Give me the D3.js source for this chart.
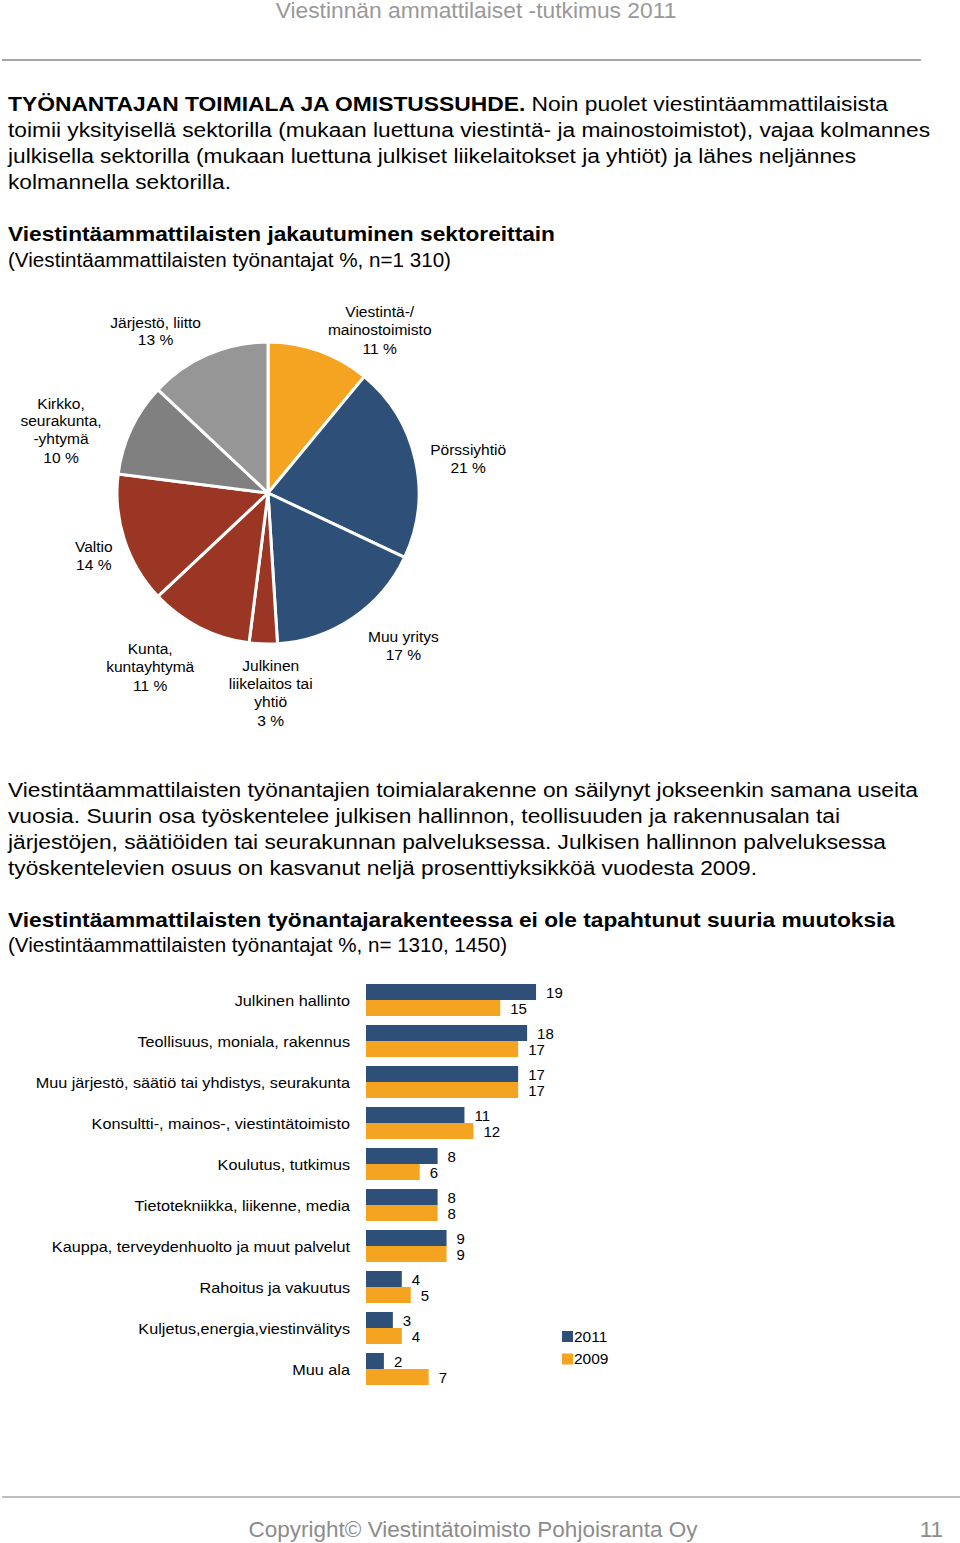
<!DOCTYPE html>
<html><head><meta charset="utf-8">
<script src="https://cdn.jsdelivr.net/npm/d3@7"></script>
<style>body{margin:0;background:#fff} svg{display:block} text{font-family:"Liberation Sans",Arial,sans-serif}</style>
</head><body><svg id="c" width="960" height="1543"></svg>
<script>
// ---------- DATA ----------
const pieCategories = ["Viestintä-/ mainostoimisto","Pörssiyhtiö","Muu yritys","Julkinen liikelaitos tai yhtiö","Kunta, kuntayhtymä","Valtio","Kirkko, seurakunta, -yhtymä","Järjestö, liitto"];
const pieLabelLines = [["Viestintä-/","mainostoimisto"],["Pörssiyhtiö"],["Muu yritys"],["Julkinen","liikelaitos tai","yhtiö"],["Kunta,","kuntayhtymä"],["Valtio"],["Kirkko,","seurakunta,","-yhtymä"],["Järjestö, liitto"]];
const pieValues = [11,21,17,3,11,14,10,13];

const barCategories = ["Julkinen hallinto","Teollisuus, moniala, rakennus","Muu järjestö, säätiö tai yhdistys, seurakunta","Konsultti-, mainos-, viestintätoimisto","Koulutus, tutkimus","Tietotekniikka,  liikenne,  media","Kauppa, terveydenhuolto ja muut palvelut","Rahoitus ja vakuutus","Kuljetus,energia,viestinvälitys","Muu ala"];
const values2011 = [19,18,17,11,8,8,9,4,3,2];
const values2009 = [15,17,17,12,6,8,9,5,4,7];
const seriesNames = ["2011","2009"];

// ---------- STYLE / LAYOUT ----------
const pieColors = ["#F4A421","#2E5078","#2E5078","#9B3524","#9B3524","#9B3524","#808080","#969696"];
const labelNudge = [[44,25],[5,10],[23,-12],[9,0],[-27,-4],[16,1],[-26,22.5],[-33,22]];
const seriesColors = {"2011":"#2E5078","2009":"#F4A421"};

const svg = d3.select("#c");

function stretch(sel, factor){
  sel.each(function(){
    const w = this.getComputedTextLength();
    d3.select(this).attr("textLength", w*factor).attr("lengthAdjust","spacingAndGlyphs");
  });
}

// header
const hdr = svg.append("text").attr("x",476).attr("y",18).attr("text-anchor","middle")
  .attr("font-size",21.5).attr("fill","#999").text("Viestinnän ammattilaiset -tutkimus 2011");
stretch(hdr, 1.06);
svg.append("line").attr("x1",2).attr("x2",921).attr("y1",60).attr("y2",60).attr("stroke","#a6a6a6").attr("stroke-width",2);

function para(lines, widths, y0, lh, size){
  lines.forEach((ln,i)=>{
    const t = svg.append("text").attr("x",8).attr("y",y0+i*lh).attr("font-size",size).attr("fill","#000");
    ln.forEach(seg=>{ t.append("tspan").attr("font-weight",seg[1]?"bold":"normal").text(seg[0]); });
    t.attr("textLength",widths[i]).attr("lengthAdjust","spacingAndGlyphs");
  });
}
para([
  [["TYÖNANTAJAN TOIMIALA JA OMISTUSSUHDE.",true],[" Noin puolet viestintäammattilaisista",false]],
  [["toimii yksityisellä sektorilla (mukaan luettuna viestintä- ja mainostoimistot), vajaa kolmannes",false]],
  [["julkisella sektorilla (mukaan luettuna julkiset liikelaitokset ja yhtiöt) ja lähes neljännes",false]],
  [["kolmannella sektorilla.",false]]
],[880,922,848,223],111,26,20);
para([[["Viestintäammattilaisten jakautuminen sektoreittain",true]]],[547],241,26,20);
para([[["(Viestintäammattilaisten työnantajat %, n=1 310)",false]]],[443],267,26,20);

para([
  [["Viestintäammattilaisten työnantajien toimialarakenne on säilynyt jokseenkin samana useita",false]],
  [["vuosia. Suurin osa työskentelee julkisen hallinnon, teollisuuden ja rakennusalan tai",false]],
  [["järjestöjen, säätiöiden tai seurakunnan palveluksessa. Julkisen hallinnon palveluksessa",false]],
  [["työskentelevien osuus on kasvanut neljä prosenttiyksikköä vuodesta 2009.",false]]
],[910,832,878,749],797,26,20);
para([[["Viestintäammattilaisten työnantajarakenteessa ei ole tapahtunut suuria muutoksia",true]]],[887],927,26,20);
para([[["(Viestintäammattilaisten työnantajat %, n= 1310, 1450)",false]]],[499],952,26,20);

// ---------- PIE ----------
const cx=268, cy=493, R=151;
const pie = d3.pie().sort(null).value(d=>d)(pieValues);
const arc = d3.arc().innerRadius(0).outerRadius(R);
const labelArc = d3.arc().innerRadius(200).outerRadius(200);
const gp = svg.append("g").attr("transform",`translate(${cx},${cy})`);
gp.selectAll("path").data(pie).join("path").attr("d",arc)
  .attr("fill",(d,i)=>pieColors[i]).attr("stroke","#fff").attr("stroke-width",3).attr("stroke-linejoin","round");
pie.forEach((d,i)=>{
  const c = labelArc.centroid(d);
  const lx = c[0]+labelNudge[i][0], ly = c[1]+labelNudge[i][1];
  const lines = pieLabelLines[i].concat([d.data+" %"]);
  const lh = 17.7;
  const y0 = ly - (lines.length-1)*lh/2;
  lines.forEach((ln,j)=>{
    const t = gp.append("text").attr("text-anchor","middle").attr("font-size",14).attr("fill","#000")
      .attr("x",lx).attr("y",y0+j*lh + (j===lines.length-1 && lines.length>2 ? 1.5:0)).attr("dy","0.35em").text(ln);
    stretch(t, 1.11);
  });
});

// ---------- BARS ----------
const x = d3.scaleLinear().domain([0,20]).range([366,545]);
const y = d3.scaleBand().domain(barCategories).range([979.5,1389.5]).paddingInner(9/41).paddingOuter(4.5/41);
const ys = d3.scaleBand().domain(seriesNames).range([0,y.bandwidth()]);
const rows = barCategories.map((c,i)=>({cat:c, vals:[{s:"2011",v:values2011[i]},{s:"2009",v:values2009[i]}]}));
const gb = svg.append("g");
const grp = gb.selectAll("g.row").data(rows).join("g").attr("class","row").attr("transform",d=>`translate(0,${y(d.cat)})`);
grp.selectAll("rect").data(d=>d.vals).join("rect")
  .attr("x",x(0)).attr("y",d=>ys(d.s)).attr("width",d=>x(d.v)-x(0)).attr("height",ys.bandwidth())
  .attr("fill",d=>seriesColors[d.s]);
grp.selectAll("text.val").data(d=>d.vals).join("text").attr("class","val")
  .attr("x",d=>x(d.v)+10).attr("y",d=>ys(d.s)+ys.bandwidth()/2+1).attr("dy","0.35em")
  .attr("font-size",15).attr("fill","#000").text(d=>d.v);
const catLabels = grp.append("text").attr("x",350).attr("y",y.bandwidth()/2+1).attr("dy","0.35em").attr("text-anchor","end")
  .attr("font-size",15).attr("fill","#000").text(d=>d.cat);
stretch(catLabels, 1.08);

// legend
const lg = svg.append("g").attr("transform","translate(562,1331)");
seriesNames.forEach((s,i)=>{
  lg.append("rect").attr("x",0).attr("y",i*22.5).attr("width",11).attr("height",11).attr("fill",seriesColors[s]);
  lg.append("text").attr("x",12).attr("y",i*22.5+5.5).attr("dy","0.35em").attr("font-size",15.5).attr("fill","#000").text(s);
});

// footer
svg.append("line").attr("x1",2).attr("x2",960).attr("y1",1497).attr("y2",1497).attr("stroke","#bfbfbf").attr("stroke-width",2);
svg.append("text").attr("x",473).attr("y",1537).attr("text-anchor","middle").attr("font-size",22.5).attr("fill","#8c8c8c").text("Copyright© Viestintätoimisto Pohjoisranta Oy");
svg.append("text").attr("x",943).attr("y",1537).attr("text-anchor","end").attr("font-size",22.5).attr("fill","#8c8c8c").text("11");
</script></body></html>
